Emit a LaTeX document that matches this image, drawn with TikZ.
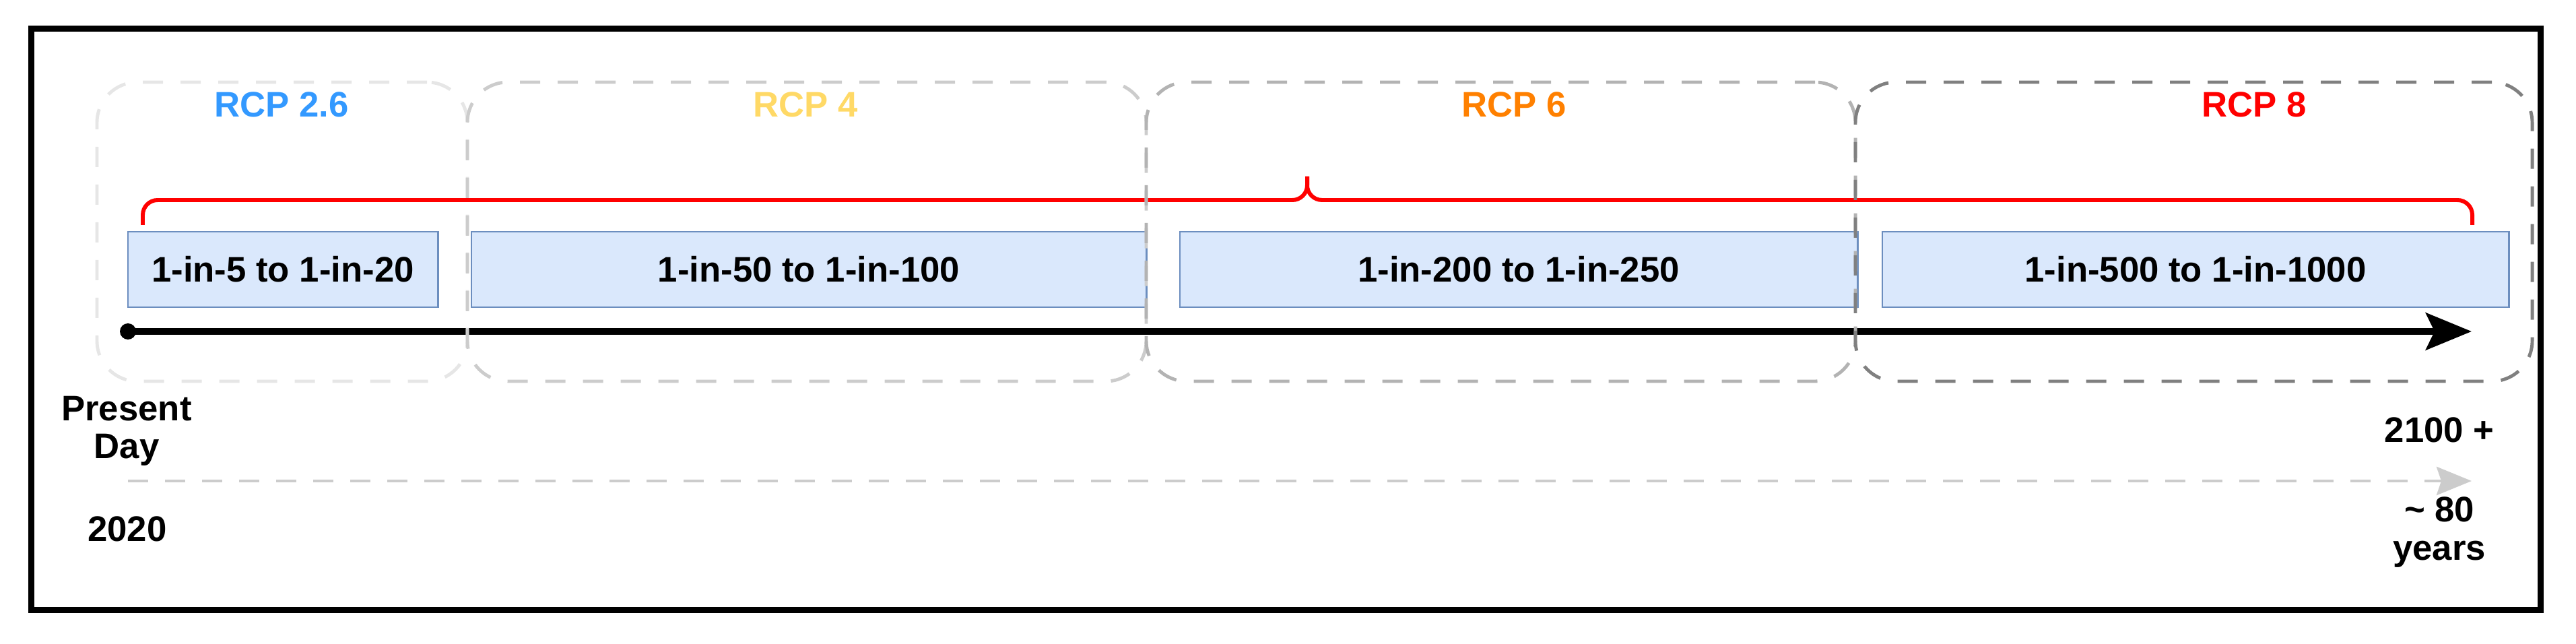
\documentclass[tikz,border=0pt]{standalone}
\usepackage{fontspec}
\setmainfont{Liberation Sans}
\definecolor{RCPblue}{HTML}{3399FF}
\definecolor{RCPyellow}{HTML}{FFD966}
\definecolor{RCPorange}{HTML}{FF8000}
\definecolor{RCPred}{HTML}{FF0000}
\definecolor{RCPgreyA}{HTML}{E6E6E6}
\definecolor{RCPgreyB}{HTML}{CCCCCC}
\definecolor{RCPgreyC}{HTML}{B3B3B3}
\definecolor{RCPgreyD}{HTML}{808080}
\definecolor{boxfill}{HTML}{DAE8FC}
\definecolor{boxdraw}{HTML}{6C8EBF}
\usetikzlibrary{positioning,arrows.meta}
\tikzset{
	ratebox/.style={
		rectangle,
		fill=boxfill,
		draw=boxdraw, line width=0.85pt,
		minimum height=1.12cm,
		font=\bfseries\fontsize{15}{16}\selectfont,
		text centered},
	rcpframe/.style={
		rectangle,
		rounded corners=0.6cm,
		draw=#1, line width=1.4pt,
		dash pattern=on 0.3cm off 0.26cm,
		minimum height=4.44cm},
	rcplabel/.style={font=\bfseries\fontsize{15}{16}\selectfont},
	yearlabel/.style={font=\bfseries\fontsize{15}{16}\selectfont, align=center},
	dot/.style={circle, fill=black, minimum size=0.24cm, inner sep=0pt},
	timeline/.style={draw, line width=2.8pt,
		-{Stealth[length=0.68cm, width=0.55cm, inset=0.13cm]}},
	spanline/.style={draw=RCPgreyB, line width=1.4pt,
		dash pattern=on 0.3cm off 0.25cm,
		-{Stealth[length=0.52cm, width=0.42cm, inset=0.07cm]}},
	tuborg/.style={draw=RCPred, line width=1.7pt, rounded corners=0.22cm},
}

\begin{document}
\begin{tikzpicture}
[node distance=.47cm]
\useasboundingbox (0,0) rectangle (38.25,9.55);
\draw[line width=0.085cm] (0.465,0.495) rectangle (37.725,9.125);
\node[ratebox, minimum width=4.60cm] (rp1) at (4.20,5.55) {1-in-5 to 1-in-20};
\node[ratebox, minimum width=10.02cm, right=of rp1] (rp2) {1-in-50 to 1-in-100};
\node[ratebox, minimum width=10.06cm, right=of rp2] (rp3) {1-in-200 to 1-in-250};
\node[ratebox, minimum width=9.30cm, right=0.34cm of rp3] (rp4) {1-in-500 to 1-in-1000};
\node[dot] (start) at (1.90,4.63) {};
\coordinate (end) at (36.70,4.63);
\draw[timeline] (start.center) -- (end);
\coordinate (spanstart) at (1.90,2.41);
\coordinate (spanend) at (36.70,2.41);
\draw[spanline] (spanstart) -- (spanend);
\coordinate (bracel) at (2.12,6.21);
\coordinate (bracer) at (36.71,6.21);
\coordinate (brmid) at (19.41,6.58);
\coordinate (brtip) at (19.41,6.93);
\draw[tuborg] (bracel) |- (brmid) -- (brtip);
\draw[tuborg] (brtip) -- (brmid) -| (bracer);
\node[rcpframe=RCPgreyA, minimum width=5.50cm] (f26) at (4.19,6.11) {};
\node[rcpframe=RCPgreyB, minimum width=10.08cm] (f4) at (11.98,6.11) {};
\node[rcpframe=RCPgreyC, minimum width=10.53cm] (f6) at (22.285,6.11) {};
\node[rcpframe=RCPgreyD, minimum width=10.05cm] (f8) at (32.575,6.11) {};
\node[rcplabel, text=RCPblue] (l26) at (4.18,8.00) {RCP 2.6};
\node[rcplabel, text=RCPyellow] (l4) at (11.96,8.00) {RCP 4};
\node[rcplabel, text=RCPorange] (l6) at (22.48,8.00) {RCP 6};
\node[rcplabel, text=RCPred] (l8) at (33.47,8.00) {RCP 8};
\node[yearlabel] (present) at (1.88,3.15) {Present\\Day};
\node[yearlabel] (y2020) at (1.89,1.70) {2020};
\node[yearlabel] (y2100) at (36.22,3.17) {2100 +};
\node[yearlabel] (span80) at (36.22,1.65) {\textasciitilde{} 80\\years};
\end{tikzpicture}
\end{document}
